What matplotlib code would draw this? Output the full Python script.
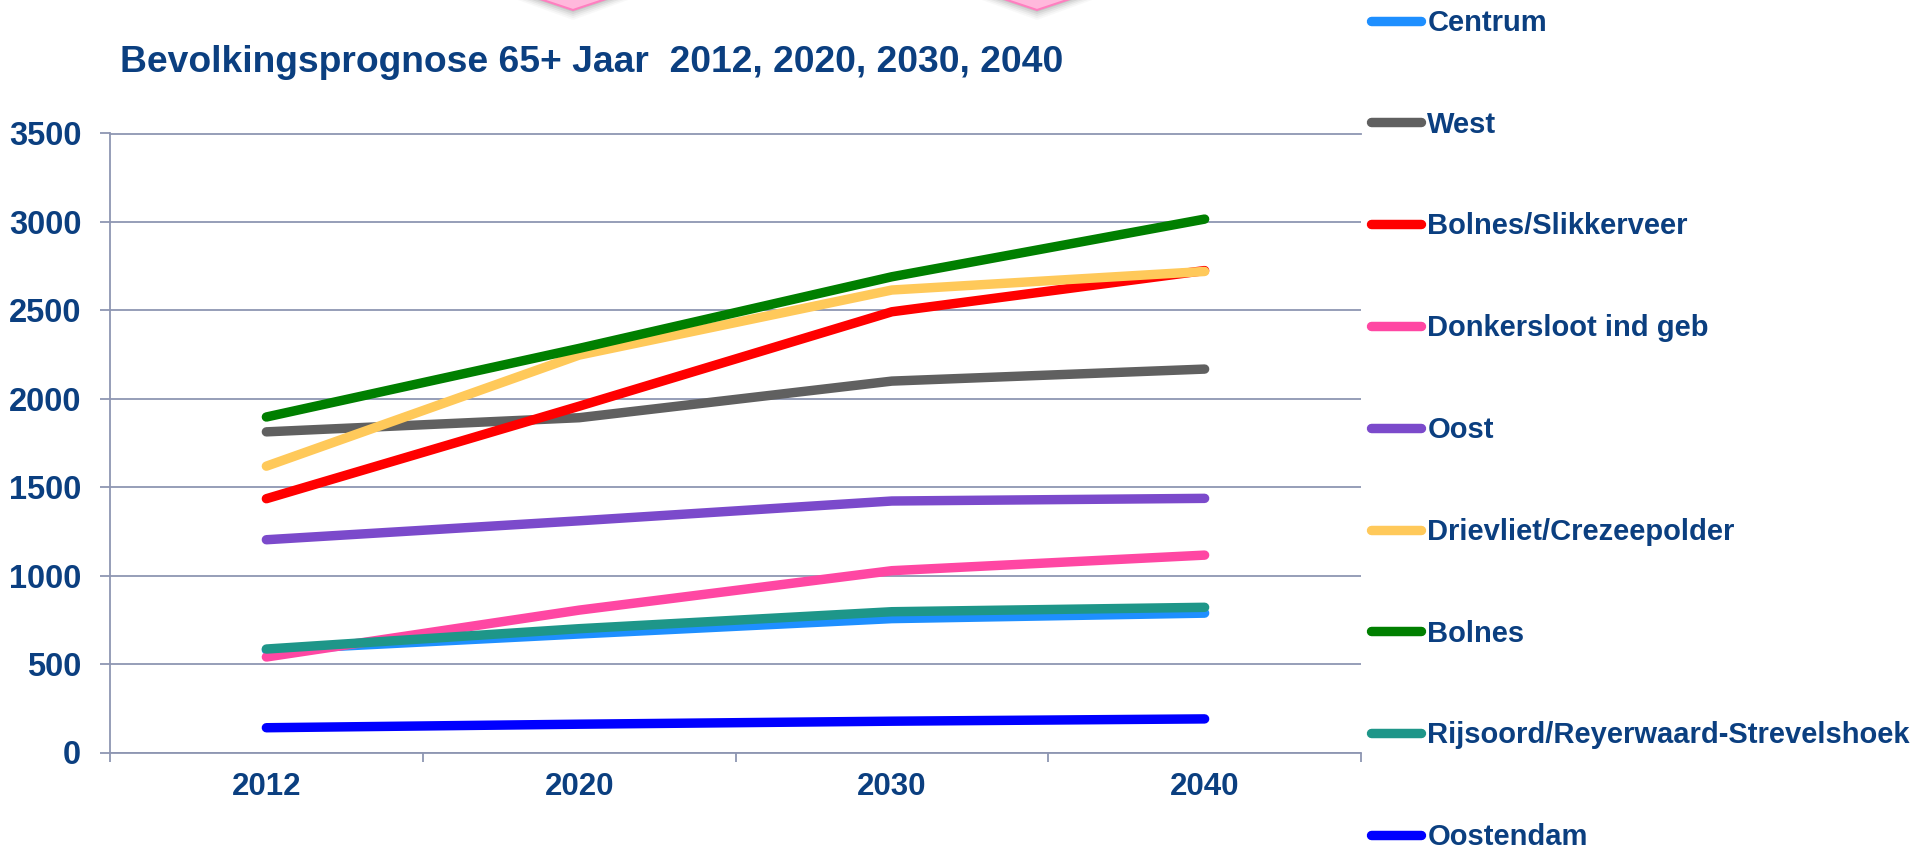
import matplotlib
matplotlib.use('Agg')
import matplotlib.pyplot as plt
from matplotlib.patches import Polygon

# ---------------- data ----------------
years = ['2012', '2020', '2030', '2040']
centrum = [580, 670, 757, 788]
west = [1813, 1893, 2100, 2168]
bolnes_slikkerveer = [1435, 1958, 2492, 2725]
donkersloot = [540, 805, 1028, 1116]
oost = [1203, 1310, 1422, 1437]
drievliet = [1619, 2247, 2615, 2720]
bolnes = [1897, 2285, 2690, 3016]
rijsoord = [585, 700, 796, 821]
oostendam = [140, 160, 177, 190]

series_names = ['Centrum', 'West', 'Bolnes/Slikkerveer', 'Donkersloot ind geb', 'Oost',
                'Drievliet/Crezeepolder', 'Bolnes', 'Rijsoord/Reyerwaard-Strevelshoek', 'Oostendam']
series_values = [centrum, west, bolnes_slikkerveer, donkersloot, oost,
                 drievliet, bolnes, rijsoord, oostendam]
y_ticks = [0, 500, 1000, 1500, 2000, 2500, 3000, 3500]
title = 'Bevolkingsprognose 65+ Jaar  2012, 2020, 2030, 2040'

# ---------------- style ----------------
colors = ['#1E8FFF', '#606060', '#FF0000', '#FF47A3', '#7B4ACB',
          '#FFC95A', '#007F00', '#1E9689', '#0000FF']
text_color = '#0B3F80'
grid_color = '#8E96B2'

plt.rcParams['font.family'] = ['Liberation Sans', 'DejaVu Sans']
plt.rcParams['font.weight'] = 'bold'

W, H = 1918, 848
fig = plt.figure(figsize=(W / 100, H / 100), dpi=100)
fig.patch.set_facecolor('white')

ax_left, ax_right, ax_top, ax_bottom = 110, 1361, 133.5, 752.5
ax = fig.add_axes([ax_left / W, 1 - ax_bottom / H, (ax_right - ax_left) / W, (ax_bottom - ax_top) / H])

x = list(range(len(years)))
for name, vals, c in zip(series_names, series_values, colors):
    ax.plot(x, vals, color=c, lw=6.8, solid_capstyle='round', solid_joinstyle='round', label=name)

ax.set_xlim(-0.5, len(years) - 0.5)
ax.set_ylim(0, 3500)

ax.set_yticks(y_ticks)
ax.set_yticklabels([str(v) for v in y_ticks])
ax.yaxis.grid(True, color=grid_color, lw=1.3)
ax.set_axisbelow(True)

ax.set_xticks([i - 0.5 for i in range(len(years) + 1)])
ax.set_xticklabels([])
ax.set_xticks(x, minor=True)
ax.set_xticklabels(years, minor=True)

ax.tick_params(axis='y', direction='out', length=7.2, width=1.3, color=grid_color,
               pad=13.5, labelsize=23.5, labelcolor=text_color)
ax.tick_params(axis='x', which='major', direction='out', length=6.7, width=1.3, color=grid_color)
ax.tick_params(axis='x', which='minor', length=0, pad=14, labelsize=22.5, labelcolor=text_color)

for s in ['right']:
    ax.spines[s].set_visible(False)
for s in ['left', 'bottom', 'top']:
    ax.spines[s].set_color(grid_color)
    ax.spines[s].set_linewidth(1.3)

# title
fig.text(120 / W, 1 - 72 / H, title, fontsize=26.8, color=text_color,
         ha='left', va='baseline', fontweight='bold')

# legend
leg = ax.legend(loc='center left', bbox_to_anchor=(1371 / W, 1 - 430 / H),
                bbox_transform=fig.transFigure, frameon=False, fontsize=21,
                handlelength=1.71, handletextpad=0.22, labelspacing=2.53,
                borderpad=0, borderaxespad=0)
for t in leg.get_texts():
    t.set_color(text_color)

# decorative pink shapes at the top edge (partially visible)
def px(xp, yp):
    return (xp / W, 1 - yp / H)

for tip_x in (573, 1037):
    for off, a in [(10, 0.04), (8, 0.06), (6, 0.08), (4, 0.10), (2, 0.12)]:
        shadow = Polygon([px(tip_x - 92 - off, -20 + off * 0.3), px(tip_x, 10 + off),
                          px(tip_x + 92 + off, -20 + off * 0.3), px(tip_x, -50)],
                         closed=True, transform=fig.transFigure, facecolor='#606060',
                         edgecolor='none', alpha=a)
        fig.patches.append(shadow)
    diamond = Polygon([px(tip_x - 90, -20), px(tip_x, 10), px(tip_x + 90, -20), px(tip_x, -50)],
                      closed=True, transform=fig.transFigure, facecolor='#FFB8DC',
                      edgecolor='#FF7FC0', lw=1.5)
    fig.patches.append(diamond)

fig.savefig('out.png', dpi=100, facecolor='white')
